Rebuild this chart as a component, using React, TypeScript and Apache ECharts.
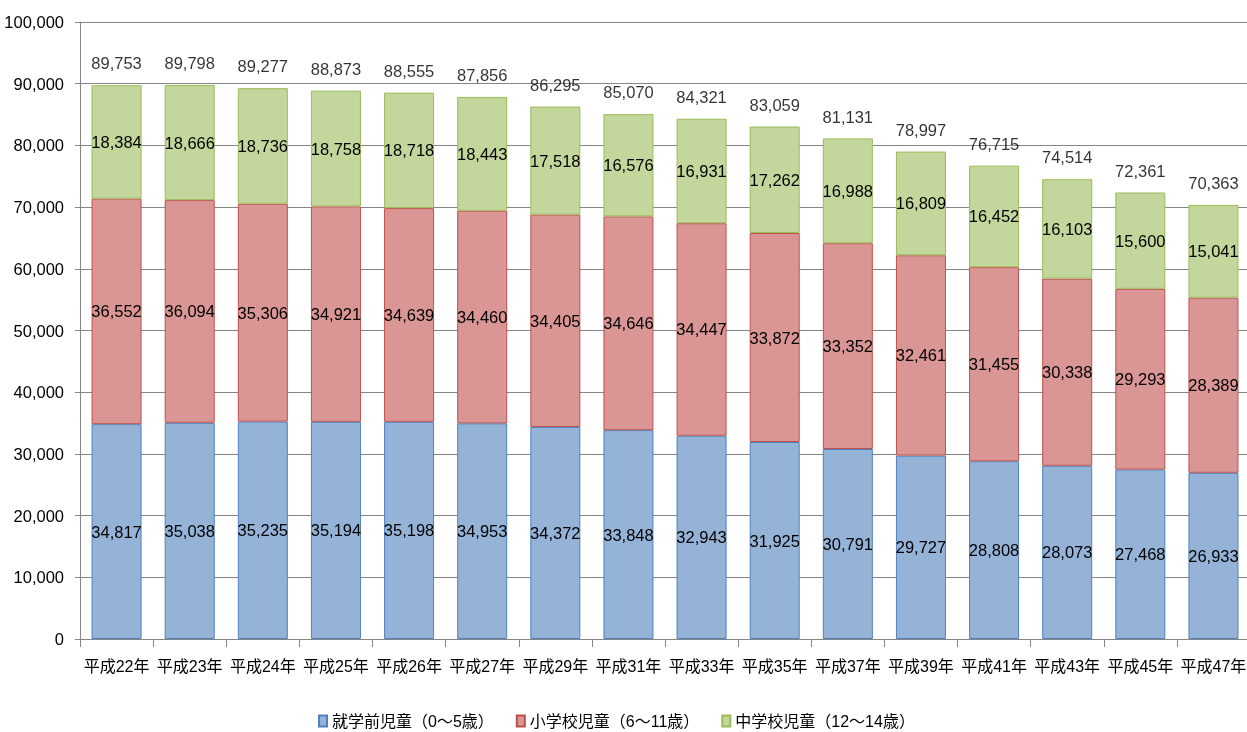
import React, { useEffect, useRef } from "react";
import * as echarts from "echarts";

const categories = ["平成22年", "平成23年", "平成24年", "平成25年", "平成26年", "平成27年", "平成29年", "平成31年", "平成33年", "平成35年", "平成37年", "平成39年", "平成41年", "平成43年", "平成45年", "平成47年"];
const preschool = [34817, 35038, 35235, 35194, 35198, 34953, 34372, 33848, 32943, 31925, 30791, 29727, 28808, 28073, 27468, 26933];
const elementary = [36552, 36094, 35306, 34921, 34639, 34460, 34405, 34646, 34447, 33872, 33352, 32461, 31455, 30338, 29293, 28389];
const junior = [18384, 18666, 18736, 18758, 18718, 18443, 17518, 16576, 16931, 17262, 16988, 16809, 16452, 16103, 15600, 15041];
const totals = [89753, 89798, 89277, 88873, 88555, 87856, 86295, 85070, 84321, 83059, 81131, 78997, 76715, 74514, 72361, 70363];
const seriesNames = ["就学前児童（0～5歳）", "小学校児童（6～11歳）", "中学校児童（12～14歳）"];

const FONT = "'Liberation Sans', 'Noto Sans CJK JP', sans-serif";
const fmt = (v: number) => v.toLocaleString("en-US");

export default function App() {
  const ref = useRef<HTMLDivElement>(null);
  useEffect(() => {
    if (!ref.current) return;
    const chart = echarts.init(ref.current, undefined, { renderer: "svg" });
    const barLabel = {
      show: true,
      position: "inside" as const,
      color: "#000",
      fontSize: 16.5,
      fontFamily: FONT,
      formatter: (p: any) => fmt(p.value),
    };
    const mkBar = (name: string, data: number[], fill: string, border: string) => ({
      name,
      type: "bar" as const,
      stack: "total",
      data,
      barWidth: 50,
      itemStyle: { color: fill, borderColor: border, borderWidth: 1 },
      label: barLabel,
    });
    chart.setOption({
      animation: false,
      textStyle: { fontFamily: FONT },
      grid: { left: 80, top: 22, width: 1170, height: 617, containLabel: false, outerBoundsMode: "none" },
      legend: {
        data: seriesNames,
        left: 318,
        top: 713,
        padding: 0,
        icon: "rect",
        itemWidth: 8,
        itemHeight: 11,
        itemGap: 22,
        textStyle: { fontSize: 16, color: "#000", fontFamily: FONT },
      },
      xAxis: {
        type: "category",
        data: categories,
        axisLine: { lineStyle: { color: "#868686" } },
        axisTick: { show: true, length: 8, lineStyle: { color: "#868686" } },
        axisLabel: { color: "#000", fontSize: 16, margin: 19, fontFamily: FONT, interval: 0 },
      },
      yAxis: {
        type: "value",
        min: 0,
        max: 100000,
        interval: 10000,
        axisLine: { show: true, lineStyle: { color: "#868686" } },
        axisTick: { show: true, length: 5, lineStyle: { color: "#868686" } },
        splitLine: { lineStyle: { color: "#868686" } },
        axisLabel: { color: "#000", fontSize: 16.5, margin: 16, fontFamily: FONT, formatter: (v: number) => fmt(v) },
      },
      series: [
        mkBar(seriesNames[0], preschool, "#95B3D7", "#4F81BD"),
        mkBar(seriesNames[1], elementary, "#D99694", "#C0504D"),
        mkBar(seriesNames[2], junior, "#C3D69B", "#9BBB59"),
        {
          name: "合計",
          type: "scatter",
          data: totals,
          symbolSize: 1,
          itemStyle: { color: "rgba(0,0,0,0)" },
          label: {
            show: true,
            position: "top",
            distance: 13,
            color: "#000",
            fontSize: 16.5,
            fontFamily: FONT,
            formatter: (p: any) => fmt(p.value),
          },
        },
      ],
    });
    return () => chart.dispose();
  }, []);
  return <div ref={ref} style={{ position: "fixed", left: 0, top: 0, width: 1247, height: 732 }} />;
}
